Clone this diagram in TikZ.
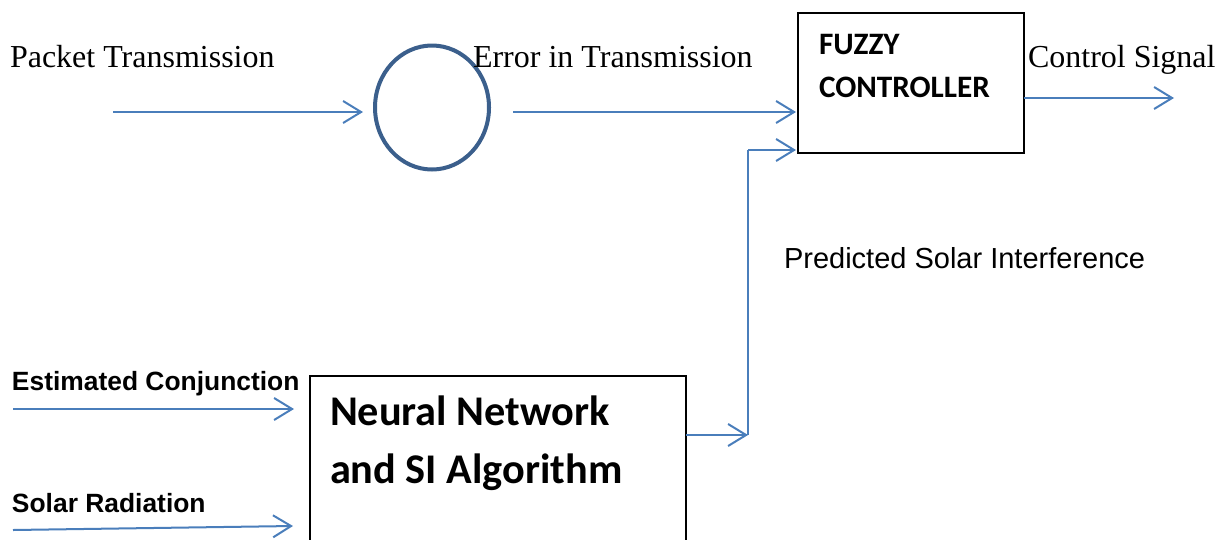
\documentclass[tikz,border=0pt]{standalone}
\usepackage{fontspec}
\setmainfont{Liberation Serif}
\newfontfamily\arialf{Liberation Sans}
\newfontfamily\calibrif{Carlito}
\usetikzlibrary{shapes.geometric,arrows.meta}
\definecolor{flowblue}{HTML}{4A7EBB}
\definecolor{ringblue}{HTML}{3B5F8C}
\tikzset{
  flow/.style={draw=flowblue, line width=2pt,
    -{Straight Barb[length=18pt,width=22pt,line width=2pt]}},
  flowline/.style={draw=flowblue, line width=2pt},
  blockbox/.style={draw=black, line width=1.8pt, rectangle, inner sep=0pt, outer sep=0pt},
  lbl/.style={inner sep=0pt, outer sep=0pt, anchor=base west},
  serif/.style={font=\fontsize{32}{38}\selectfont},
  sanslbl/.style={font=\arialf\fontsize{29}{34}\selectfont},
  sansbold/.style={font=\arialf\bfseries\fontsize{26.4}{31}\selectfont},
  fuzzytxt/.style={font=\calibrif\bfseries\fontsize{31.2}{38}\selectfont},
  nntxt/.style={font=\calibrif\bfseries\fontsize{42.3}{50}\selectfont},
}
\begin{document}
\begin{tikzpicture}[x=1pt,y=-1pt]
\useasboundingbox (0,0) rectangle (1226,539);
\clip (0,0) rectangle (1226,539);

% summing junction
\node[ellipse, draw=ringblue, line width=4pt, minimum width=114pt,
      minimum height=124pt, inner sep=0pt, outer sep=0pt] (sum) at (432,107.5) {};

% fuzzy controller block
\node[blockbox, minimum width=226pt, minimum height=140pt] (fuzzy) at (911,83) {};
\node[lbl, fuzzytxt] (fz1) at (819,54) {FUZZY};
\node[lbl, fuzzytxt] (fz2) at (819,97) {CONTROLLER};

% neural network block (runs past the lower edge)
\node[blockbox, minimum width=376pt, minimum height=224pt] (nn) at (498,488) {};
\node[lbl, nntxt] (nn1) at (330,425) {Neural Network};
\node[lbl, nntxt] (nn2) at (330,483) {and SI Algorithm};

% signal labels
\node[lbl, serif] (tpacket) at (10,67) {Packet Transmission};
\node[lbl, serif] (terror) at (473,67) {Error in Transmission};
\node[lbl, serif] (tcontrol) at (1028,67) {Control Signal};
\node[lbl, sanslbl] (tpred) at (784,268) {Predicted Solar Interference};
\node[lbl, sansbold] (tconj) at (12,390) {Estimated Conjunction};
\node[lbl, sansbold] (trad) at (12,512) {Solar Radiation};

% connector end points
\coordinate (pin) at (113,112);
\coordinate (errout) at (513,112);
\coordinate (ctrlend) at (1174,98);
\coordinate (junc) at (748,435);
\coordinate (jtop) at (748,150);
\coordinate (conjin) at (13,409);
\coordinate (radin) at (13,530);
\coordinate (radend) at (293,526);
\path (pin -| sum.west) ++(-12,0) coordinate (pintip);

% connectors
\draw[flow] (pin) -- (pintip);
\draw[flow] (errout) -- ([xshift=-2pt]errout -| fuzzy.west);
\draw[flow] (ctrlend -| fuzzy.east) -- (ctrlend);
\draw[flow] (junc -| nn.east) -- (junc);
\draw[flowline] (junc) -- (jtop);
\draw[flow] (jtop) -- ([xshift=-2pt]jtop -| fuzzy.west);
\draw[flow] (conjin) -- ([xshift=-16pt]conjin -| nn.west);
\draw[flow] (radin) -- (radend);
\end{tikzpicture}
\end{document}
